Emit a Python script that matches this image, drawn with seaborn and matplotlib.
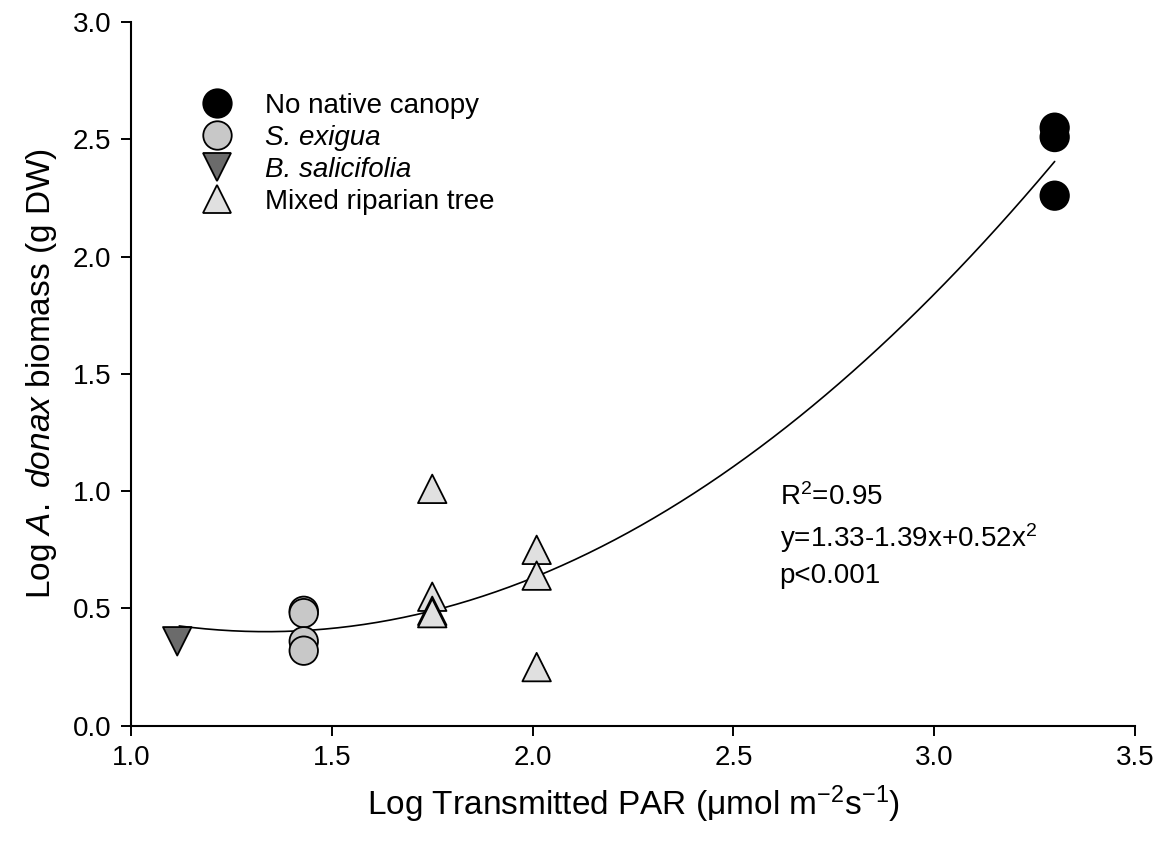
import numpy as np
import pandas as pd
import matplotlib
matplotlib.use("Agg")
import matplotlib.pyplot as plt
import seaborn as sns

# ---- data ----
groups = ["No native canopy", "S. exigua", "B. salicifolia", "Mixed riparian tree"]

no_canopy_x = [3.30, 3.30, 3.30]
no_canopy_y = [2.55, 2.51, 2.26]

exigua_x = [1.43, 1.43, 1.43, 1.43]
exigua_y = [0.49, 0.48, 0.36, 0.32]

salicifolia_x = [1.115]
salicifolia_y = [0.36]

mixed_x = [1.75, 1.75, 1.75, 1.75, 2.01, 2.01, 2.01]
mixed_y = [1.01, 0.55, 0.49, 0.48, 0.75, 0.64, 0.25]

fit_coef = [1.33, -1.39, 0.52]   # y = a + b x + c x^2
fit_range = [1.12, 3.30]

x_ticks = [1.0, 1.5, 2.0, 2.5, 3.0, 3.5]
y_ticks = [0.0, 0.5, 1.0, 1.5, 2.0, 2.5, 3.0]

# ---- build table ----
df = pd.DataFrame({
    "x": no_canopy_x + exigua_x + salicifolia_x + mixed_x,
    "y": no_canopy_y + exigua_y + salicifolia_y + mixed_y,
    "group": ([groups[0]] * len(no_canopy_x) + [groups[1]] * len(exigua_x)
              + [groups[2]] * len(salicifolia_x) + [groups[3]] * len(mixed_x)),
})

palette = {groups[0]: "#000000", groups[1]: "#c8c8c8",
           groups[2]: "#6b6b6b", groups[3]: "#e0e0e0"}
markers = {groups[0]: "o", groups[1]: "o", groups[2]: "v", groups[3]: "^"}

sns.set_style("ticks")
plt.rcParams["font.family"] = ["Liberation Sans", "DejaVu Sans"]
plt.rcParams["mathtext.fontset"] = "custom"
plt.rcParams["mathtext.rm"] = "Liberation Sans"
plt.rcParams["mathtext.it"] = "Liberation Sans:italic"
for key in ["text.color", "axes.labelcolor", "xtick.color", "ytick.color", "axes.edgecolor"]:
    plt.rcParams[key] = "black"

fig = plt.figure(figsize=(11.66, 8.51), dpi=100)
ax = fig.add_axes([0.1124, 0.1472, 0.861, 0.8268])

sns.scatterplot(data=df, x="x", y="y", hue="group", style="group",
                hue_order=groups, style_order=groups,
                palette=palette, markers=markers, s=420,
                edgecolor="black", linewidth=1.3, ax=ax, zorder=3,
                legend=True)

xs = np.linspace(fit_range[0], fit_range[1], 200)
ys = fit_coef[0] + fit_coef[1] * xs + fit_coef[2] * xs ** 2
sns.lineplot(x=xs, y=ys, color="black", linewidth=1.2, ax=ax, zorder=2)

ax.set_xlim(1.0, 3.5)
ax.set_ylim(0.0, 3.0)
ax.set_xticks(x_ticks)
ax.set_yticks(y_ticks)
ax.set_xticklabels([f"{t:.1f}" for t in x_ticks])
ax.set_yticklabels([f"{t:.1f}" for t in y_ticks])
ax.tick_params(direction="out", length=7, width=1.4, labelsize=20, pad=7,
               colors="black")
for sp in ["top", "right"]:
    ax.spines[sp].set_visible(False)
for sp in ["left", "bottom"]:
    ax.spines[sp].set_linewidth(1.5)
    ax.spines[sp].set_color("black")

ax.set_xlabel("Log Transmitted PAR (μmol m$^{-2}$s$^{-1}$)", fontsize=24, labelpad=9)
ax.set_ylabel("Log $\\mathit{A.\\ donax}$ biomass (g DW)", fontsize=24, labelpad=10)

leg = ax.legend(loc="upper left", bbox_to_anchor=(0.033, 0.935), frameon=False,
                fontsize=20, markerscale=1.0, handletextpad=0.72, labelspacing=0.22,
                title=None)
for t in leg.get_texts():
    t.set_color("black")
    if t.get_text() in (groups[1], groups[2]):
        t.set_fontstyle("italic")

ax.text(2.615, 1.035, "R$^2$=0.95\ny=1.33-1.39x+0.52x$^2$\np<0.001", fontsize=20,
        va="top", ha="left", linespacing=1.4, color="black")

fig.savefig("out.png", dpi=100)
